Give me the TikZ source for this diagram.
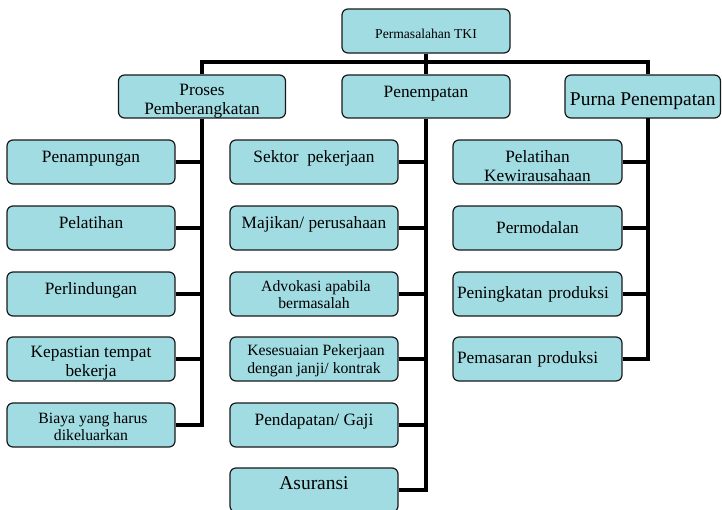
\documentclass[tikz,border=0pt]{standalone}
\usepackage{fontspec}
\setmainfont{Liberation Serif}
\definecolor{boxfill}{RGB}{160,220,226}
\definecolor{boxline}{RGB}{25,25,25}
% tall invisible strut that lowers the text inside a box
\newcommand\lowtext[1][1.16]{\rule{0pt}{#1em}}
\begin{document}
\begin{tikzpicture}[x=1pt,y=-1pt,
  box/.style={draw=boxline, line width=1.2pt, rounded corners=6pt, fill=boxfill,
    inner sep=0pt, minimum width=168pt, minimum height=44pt, align=center,
    font=\fontsize{17.3}{19}\selectfont},
  smalltext/.style={font=\fontsize{15.7}{17.5}\selectfont},
  bigtext/.style={font=\fontsize{19.5}{22}\selectfont},
  trunk/.style={line width=4.4pt, line join=miter},
  stub/.style={line width=3.8pt}
]
\useasboundingbox (0,0) rectangle (722,509);

% root
\node[box, font=\fontsize{13.6}{16}\selectfont] (root) at (426,31) {\lowtext Permasalahan TKI};

% second level
\node[box, minimum width=167pt, minimum height=43pt] (proses) at (202,96.5) {\lowtext Proses\\Pemberangkatan};
\node[box, minimum height=43pt] (penem) at (426,96.5) {\lowtext Penempatan\\\mbox{}};
\node[box, bigtext, minimum width=155.5pt, minimum height=43pt] (purna) at (642.75,96.5) {\lowtext Purna Penempatan};

% left column
\node[box] (penampungan) at (91,162) {\lowtext Penampungan\\\mbox{}};
\node[box] (pelatihan) at (91,228) {\lowtext Pelatihan\\\mbox{}};
\node[box] (perlindungan) at (91,294) {\lowtext Perlindungan\\\mbox{}};
\node[box] (kepastian) at (91,359) {\lowtext Kepastian tempat\\bekerja};
\node[box, smalltext] (biaya) at (91,425) {\lowtext[0.9] Biaya yang harus\\dikeluarkan};

% middle column
\node[box] (sektor) at (314,162) {\lowtext Sektor\ \ pekerjaan\\\mbox{}};
\node[box] (majikan) at (314,228) {\lowtext Majikan/ perusahaan\\\mbox{}};
\node[box, smalltext] (advokasi) at (314,294) {\lowtext[0.8] Advokasi apabila\\bermasalah};
\node[box, smalltext] (kesesuaian) at (314,359) {\lowtext[0.9] Kesesuaian Pekerjaan\\dengan janji/ kontrak};
\node[box] (pendapatan) at (314,425) {\lowtext Pendapatan/ Gaji\\\mbox{}};
\node[box, bigtext] (asuransi) at (314,490) {Asuransi\\[-9pt]\mbox{}};

% right column
\node[box, minimum width=169pt] (kewira) at (537.5,162) {\lowtext Pelatihan\\Kewirausahaan};
\node[box, minimum width=169pt] (modal) at (537.5,228) {Permodalan};
\node[box, minimum width=169pt, text width=161pt, align=left] (tingkat) at (537.5,294) {Peningkatan produksi};
\node[box, minimum width=169pt, text width=161pt, align=left] (pasar) at (537.5,359) {Pemasaran produksi};

% bus coordinates
\coordinate (busR) at (648,62);
\coordinate (rtrunk) at (648,118);

% top bus
\draw[trunk] (proses.north) |- (busR) -- (busR |- purna.north);
\draw[trunk] (root.south) -- (penem.north);

% trunks
\draw[trunk] (proses.south) |- (biaya.east);
\draw[trunk] (penem.south) |- (asuransi.east);
\draw[trunk] (rtrunk) |- (pasar.east);

% stubs
\foreach \n in {penampungan,pelatihan,perlindungan,kepastian}
  \draw[stub] (\n.east) -- (\n.east -| proses.south);
\foreach \n in {sektor,majikan,advokasi,kesesuaian,pendapatan}
  \draw[stub] (\n.east) -- (\n.east -| penem.south);
\foreach \n in {kewira,modal,tingkat}
  \draw[stub] (\n.east) -- (\n.east -| rtrunk);
\end{tikzpicture}
\end{document}
